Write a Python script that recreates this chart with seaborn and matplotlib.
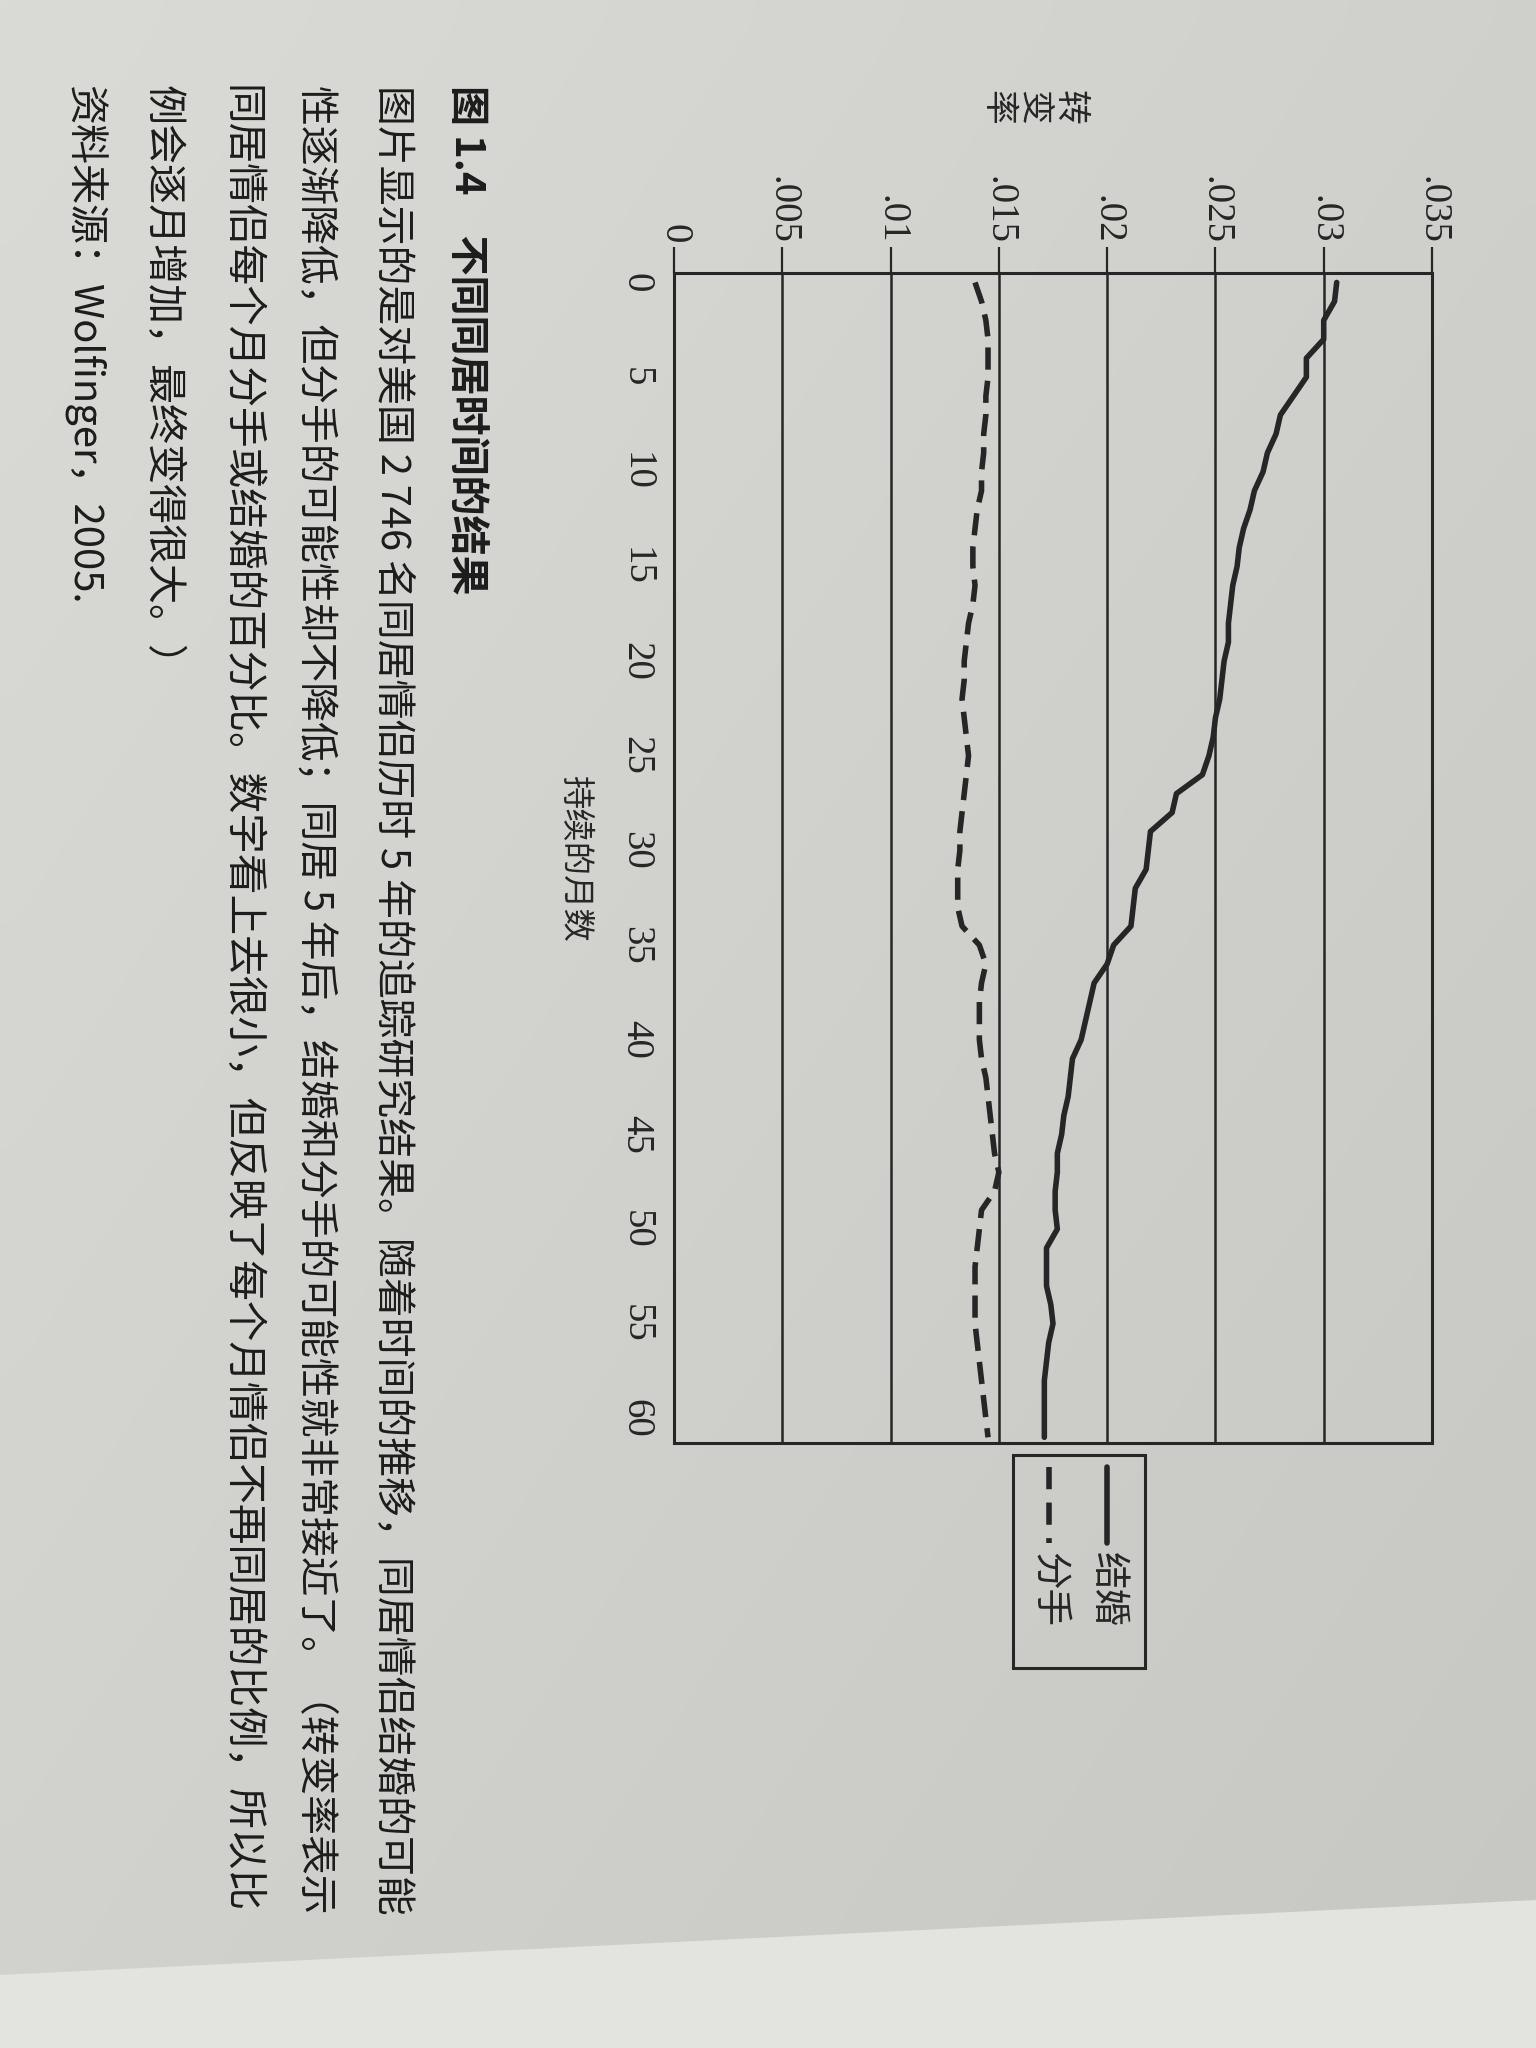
import numpy as np
import pandas as pd
import seaborn as sns
import matplotlib
matplotlib.use("Agg")
import matplotlib.pyplot as plt
from matplotlib.patches import Polygon, Rectangle
from matplotlib.lines import Line2D

# ---------------- data ----------------
months = list(range(0, 62))
marriage = [0.0306, 0.0305, 0.0300, 0.0300, 0.0292, 0.0292, 0.0286, 0.0280,
            0.0278, 0.0274, 0.0272, 0.0268, 0.0266, 0.0263, 0.0261, 0.0260,
            0.0258, 0.0257, 0.0256, 0.0256, 0.0254, 0.0253, 0.0252, 0.0250,
            0.0249, 0.0247, 0.0244, 0.0232, 0.0230, 0.0220, 0.0219, 0.0218,
            0.0213, 0.0212, 0.0211, 0.0203, 0.0200, 0.0194, 0.0192, 0.0190,
            0.0188, 0.0184, 0.0183, 0.0182, 0.0180, 0.0179, 0.0177, 0.0177,
            0.0176, 0.0176, 0.0177, 0.0172, 0.0172, 0.0172, 0.0174, 0.0175,
            0.0173, 0.0172, 0.0171, 0.0171, 0.0171, 0.0171]
breakup = [0.0139, 0.0142, 0.0144, 0.0145, 0.0145, 0.0145, 0.0144, 0.0144,
           0.0143, 0.0143, 0.0142, 0.0142, 0.0140, 0.0139, 0.0138, 0.0138,
           0.0139, 0.0138, 0.0136, 0.0135, 0.0134, 0.0134, 0.0133, 0.0134,
           0.0135, 0.0136, 0.0135, 0.0134, 0.0133, 0.0132, 0.0132, 0.0131,
           0.0131, 0.0131, 0.0133, 0.0141, 0.0144, 0.0142, 0.0141, 0.0141,
           0.0141, 0.0142, 0.0144, 0.0145, 0.0146, 0.0147, 0.0148, 0.0150,
           0.0148, 0.0142, 0.0141, 0.0140, 0.0139, 0.0139, 0.0139, 0.0139,
           0.0140, 0.0141, 0.0142, 0.0143, 0.0144, 0.0145]
series_names = ["结婚", "分手"]
rate_ticks = [0, 0.005, 0.01, 0.015, 0.02, 0.025, 0.03, 0.035]
rate_tick_labels = ["0", ".005", ".01", ".015", ".02", ".025", ".03", ".035"]
month_ticks = list(range(0, 61, 5))
month_tick_labels = [str(m) for m in month_ticks]
x_label = "持续的月数"
y_label = "转变率"
caption_title = "图 1.4　不同同居时间的结果"
caption_lines = [
    "图片显示的是对美国 2 746 名同居情侣历时 5 年的追踪研究结果。随着时间的推移，同居情侣结婚的可能",
    "性逐渐降低，但分手的可能性却不降低；同居 5 年后，结婚和分手的可能性就非常接近了。（转变率表示",
    "同居情侣每个月分手或结婚的百分比。数字看上去很小，但反映了每个月情侣不再同居的比例，所以比",
    "例会逐月增加，最终变得很大。）",
    "资料来源：Wolfinger，2005.",
]

df = pd.DataFrame({
    "month": months * 2,
    "rate": marriage + breakup,
    "series": [series_names[0]] * len(months) + [series_names[1]] * len(months),
})

# ---------------- style ----------------
sns.set_theme(style="white")
plt.rcParams['font.family'] = ['Noto Sans CJK SC', 'DejaVu Sans']
INK = "#262626"
SERIF = ['Liberation Serif', 'DejaVu Serif']

W, H = 1536, 2048
fig = plt.figure(figsize=(W / 100, H / 100), dpi=100)

# paper background (photo-like)
bg = fig.add_axes([0, 0, 1, 1], zorder=-10)
gx = np.linspace(0, 1, 64)
gy = np.linspace(0, 1, 64)
GX, GY = np.meshgrid(gx, gy)
shade = 0.855 - 0.04 * GX - 0.035 * GY
bg.imshow(np.dstack([shade, shade, shade * 0.985]), extent=[0, 1, 0, 1],
          origin="upper", aspect="auto", interpolation="bicubic")
bg.add_patch(Polygon([[0, 1 - 1975 / H], [1, 1 - 1900 / H], [1, 0], [0, 0]],
                     closed=True, facecolor="#e3e3df", edgecolor="none",
                     transform=bg.transAxes))
bg.set_xlim(0, 1)
bg.set_ylim(0, 1)
bg.axis("off")

# ---------------- main (rotated) chart ----------------
L, R, T, B = 674, 1432, 273, 1443
ax = fig.add_axes([L / W, 1 - B / H, (R - L) / W, (B - T) / H])
ax.set_facecolor("none")

sns.lineplot(data=df, x="rate", y="month", hue="series", style="series",
             hue_order=series_names, style_order=series_names,
             palette=[INK, INK], dashes={series_names[0]: "", series_names[1]: (4, 2)},
             sort=False, estimator=None, orient="y", linewidth=4.0,
             legend=False, ax=ax)

ax.set_xlim(0, 0.035)
ax.set_ylim(61.3, -0.5)

ax.xaxis.tick_top()
ax.set_xticks(rate_ticks)
ax.set_xticklabels(rate_tick_labels, rotation=-90, fontfamily=SERIF, fontsize=28, color=INK)
ax.tick_params(axis="x", which="both", direction="out", length=19, width=1.6,
               pad=2, colors=INK, top=True, bottom=False, labeltop=True, labelbottom=False)
ax.set_yticks(month_ticks)
ax.set_yticklabels(month_tick_labels, rotation=-90, fontfamily=SERIF, fontsize=28, color=INK)
for lab in ax.get_yticklabels():
    lab.set_va("center")
ax.tick_params(axis="y", length=0, pad=14)

ax.grid(axis="x", color=INK, linewidth=1.8)
ax.grid(axis="y", visible=False)
for s in ax.spines.values():
    s.set_visible(True)
    s.set_color(INK)
    s.set_linewidth(2.2)

ax.set_ylabel(x_label, rotation=-90, fontsize=24, color=INK, ha="center", va="center")
ax.yaxis.set_label_coords((575 - L) / (R - L), 0.5)
ax.xaxis.set_label_position("top")
ax.set_xlabel("\n".join(y_label), rotation=-90, fontsize=25, color=INK,
              ha="center", va="center", linespacing=1.05)
ax.xaxis.set_label_coords((1033 - L) / (R - L), (B - 107) / (B - T))

# ---------------- legend (rotated, drawn by hand) ----------------
lx0, lx1, ly0, ly1 = 1013, 1145, 1455, 1668
lg = fig.add_axes([lx0 / W, 1 - ly1 / H, (lx1 - lx0) / W, (ly1 - ly0) / H])
lg.set_xlim(0, 1)
lg.set_ylim(0, 1)
lg.axis("off")
lg.add_patch(Rectangle((0, 0), 1, 1, facecolor="none", edgecolor=INK,
                       linewidth=2.2, transform=lg.transAxes, clip_on=False))
for name, xf, dash in [(series_names[0], 0.712, None), (series_names[1], 0.273, (4, 2.4))]:
    ln = Line2D([xf, xf], [0.945, 0.585], color=INK, linewidth=4.0, transform=lg.transAxes)
    if dash:
        ln.set_dashes(dash)
    lg.add_line(ln)
    lg.text(xf, 0.545, name, rotation=-90, ha="center", va="top",
            fontsize=27, color=INK, transform=lg.transAxes)

# ---------------- caption (rotated columns) ----------------
top_y = 1 - 85 / H
col_x = [466, 392, 316, 240, 162, 84]
texts = []
t = fig.text(col_x[0] / W, top_y, caption_title, rotation=-90, ha="center", va="top",
             fontsize=29, fontweight="bold", color="#1c1c1c")
texts.append(t)
for x, line in zip(col_x[1:], caption_lines):
    texts.append(fig.text(x / W, top_y, line, rotation=-90, ha="center", va="top",
                          fontsize=29, color="#1c1c1c"))

# fit the justified lines to the printed column length
fig.canvas.draw()
rend = fig.canvas.get_renderer()
target = 1912 - 85
sizes = []
for t in texts[1:4]:
    h = t.get_window_extent(rend).height
    fs = 29 * target / h
    t.set_fontsize(fs)
    sizes.append(fs)
mean_fs = float(np.mean(sizes))
for t in [texts[0]] + texts[4:]:
    t.set_fontsize(mean_fs)

fig.savefig("out.png", dpi=100)
